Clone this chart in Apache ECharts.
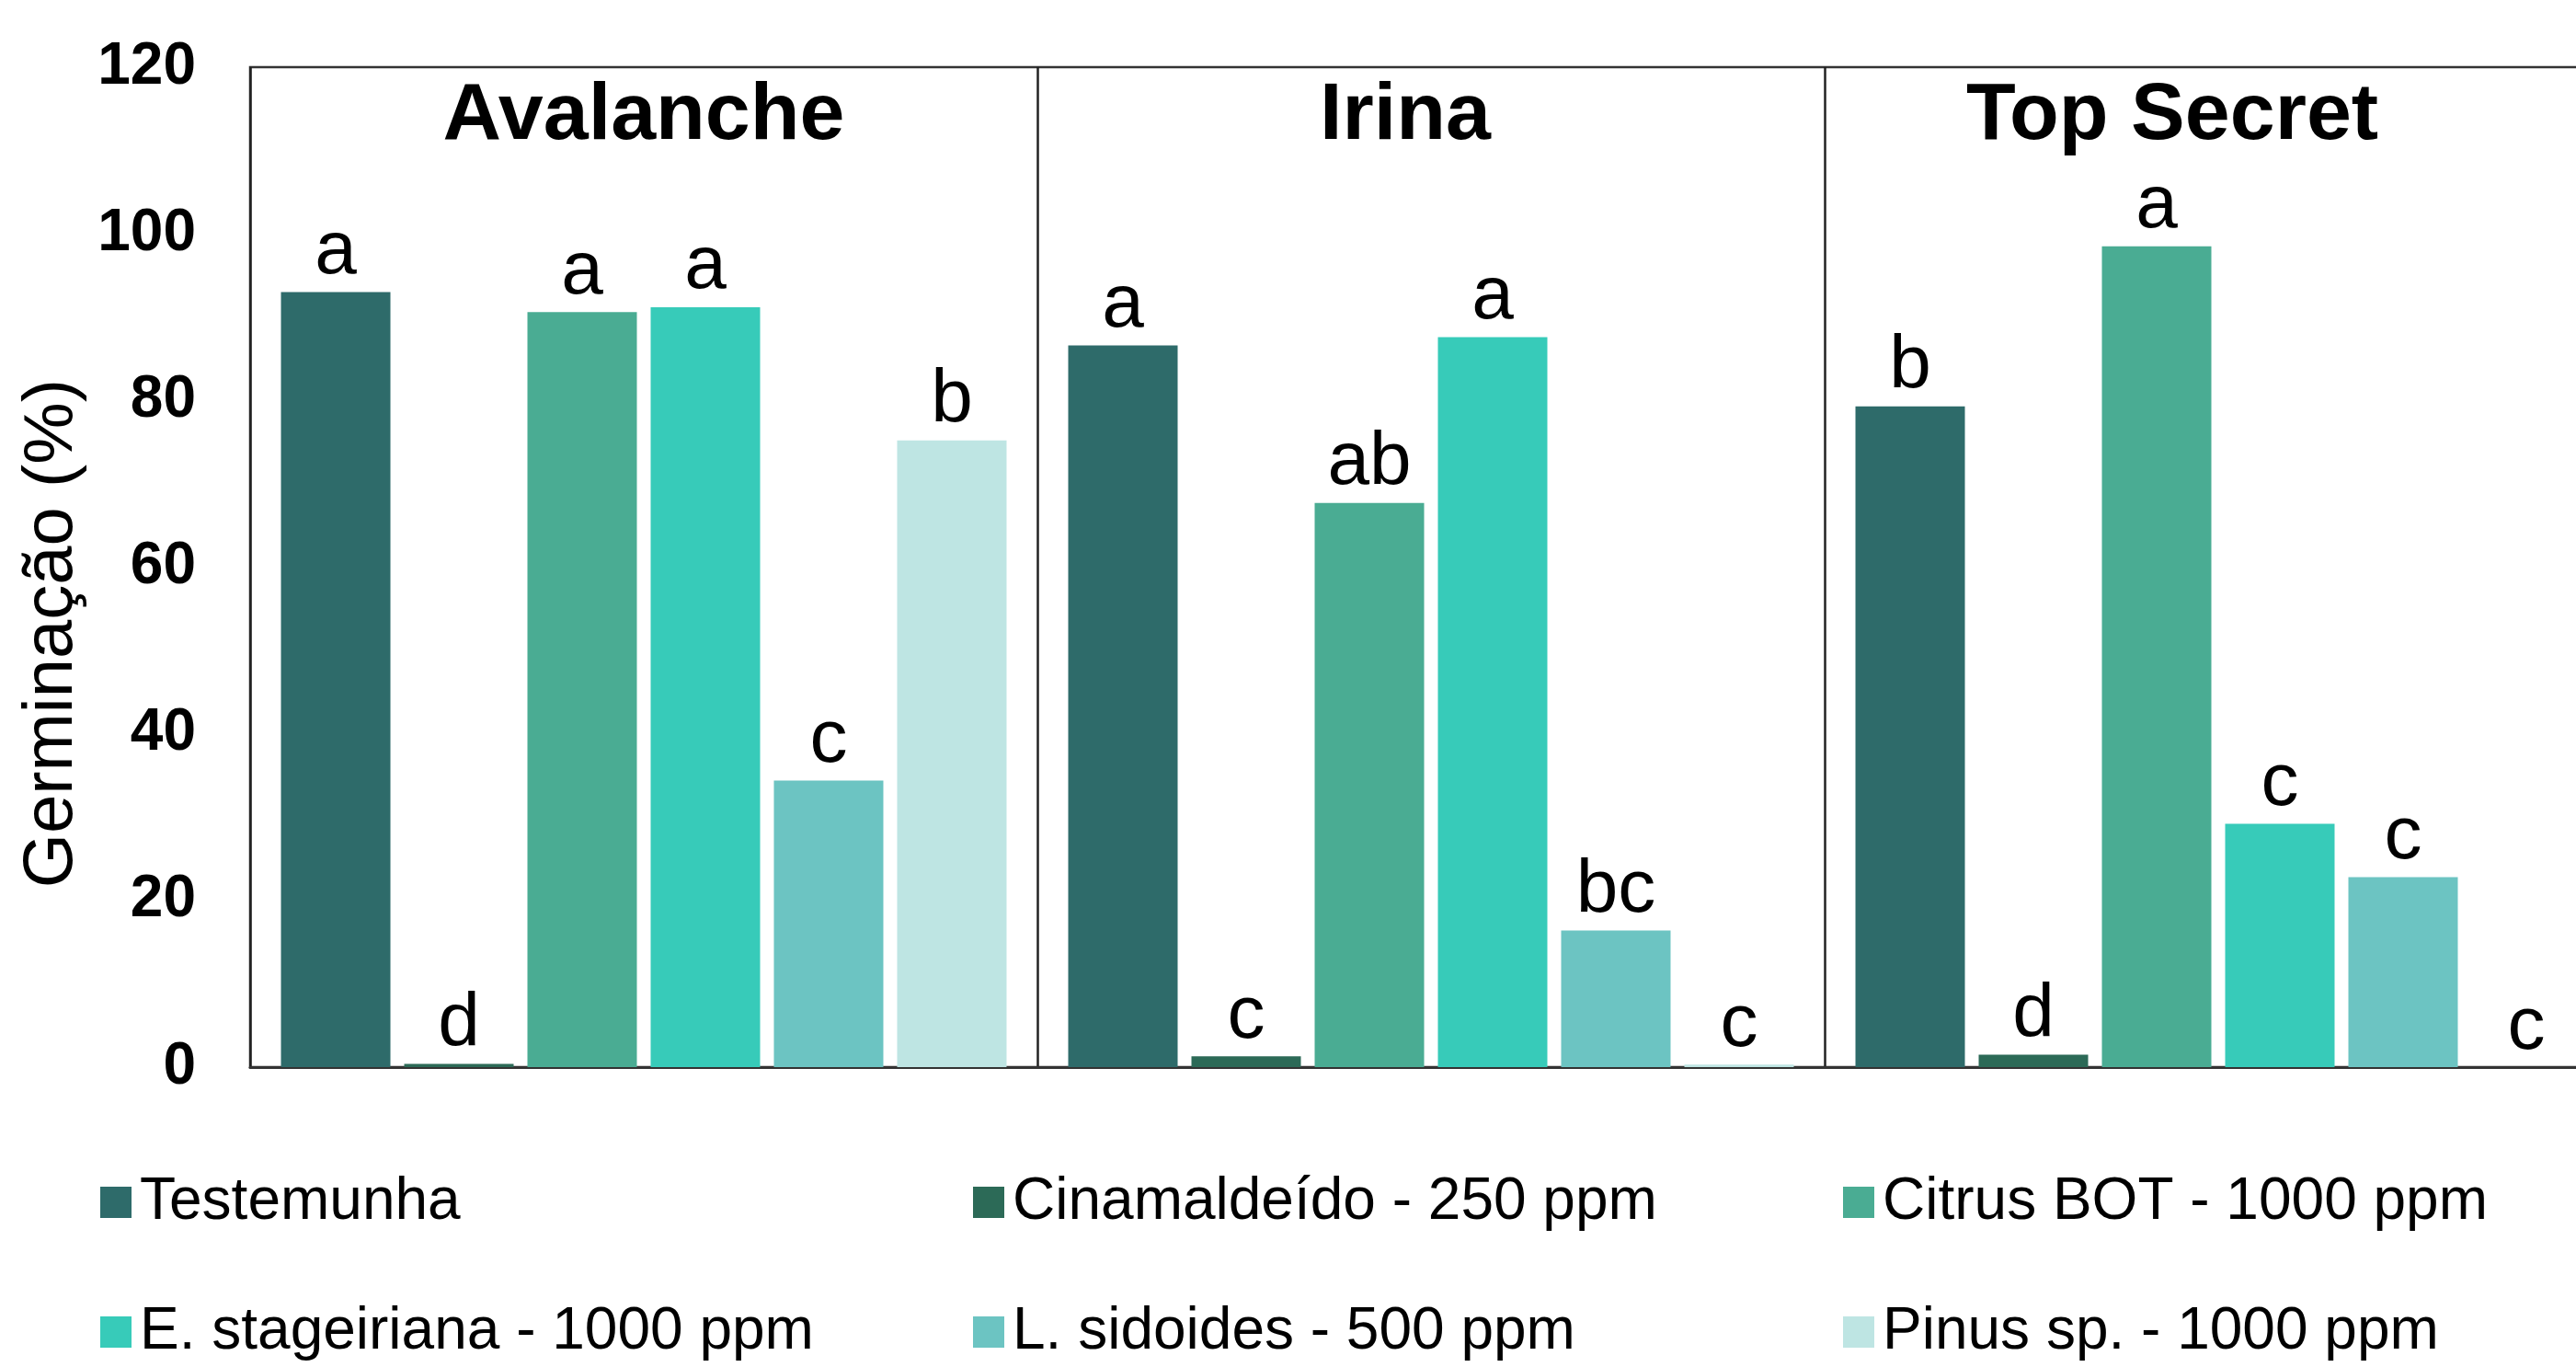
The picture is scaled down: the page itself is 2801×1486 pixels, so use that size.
<!DOCTYPE html>
<html>
<head>
<meta charset="utf-8">
<script src="https://cdn.jsdelivr.net/npm/echarts@6/dist/echarts.min.js"></script>
<style>
html,body{margin:0;padding:0;background:#fff;overflow:hidden;}
#chart{width:2801px;height:1486px;}
</style>
</head>
<body>
<div id="chart"></div>
<script>
const categories = ['Avalanche', 'Irina', 'Top Secret'];
const seriesNames = ['Testemunha', 'Cinamaldeído - 250 ppm', 'Citrus BOT - 1000 ppm',
  'E. stageiriana - 1000 ppm', 'L. sidoides - 500 ppm', 'Pinus sp. - 1000 ppm'];
const seriesColors = ['#2E6B6A', '#2C6A57', '#4AAC93', '#37CBB9', '#6CC4C2', '#BEE5E3'];

const testemunha   = [93.0, 86.6, 79.3];
const cinamaldeido = [0.4, 1.3, 1.5];
const citrusBot    = [90.6, 67.7, 98.5];
const eStageiriana = [91.2, 87.6, 29.2];
const lSidoides    = [34.4, 16.4, 22.8];
const pinus        = [75.2, 0.3, 0];

const lettersTestemunha   = ['a', 'a', 'b'];
const lettersCinamaldeido = ['d', 'c', 'd'];
const lettersCitrusBot    = ['a', 'ab', 'a'];
const lettersEStageiriana = ['a', 'a', 'c'];
const lettersLSidoides    = ['c', 'bc', 'c'];
const lettersPinus        = ['b', 'c', 'c'];

const yMin = 0, yMax = 120, yInterval = 20;
const yAxisName = 'Germinação (%)';

const values = [testemunha, cinamaldeido, citrusBot, eStageiriana, lSidoides, pinus];
const letters = [lettersTestemunha, lettersCinamaldeido, lettersCitrusBot, lettersEStageiriana, lettersLSidoides, lettersPinus];

const FONT = "'Liberation Sans', Arial, sans-serif";
const chart = echarts.init(document.getElementById('chart'));

const series = seriesNames.map((name, i) => ({
  name: name,
  type: 'bar',
  data: values[i],
  barWidth: 119,
  barGap: '12.6%',
  itemStyle: { color: seriesColors[i] },
  label: {
    show: true,
    position: 'top',
    distance: 2,
    fontFamily: FONT,
    fontSize: 82,
    color: '#000',
    formatter: p => letters[i][p.dataIndex]
  }
}));

// shift titles to match reference placement
const titleShift = [0, 56, 100];

const legendColumns = [[0, 3], [1, 4], [2, 5]];
const legendLefts = [104, 1053, 1999];
const legends = legendColumns.map((idx, c) => ({
  orient: 'vertical',
  left: legendLefts[c],
  top: 1270,
  itemWidth: 34,
  itemHeight: 34,
  itemGap: 77,
  icon: 'rect',
  selectedMode: false,
  data: idx.map(k => seriesNames[k]),
  textStyle: { fontFamily: FONT, fontSize: 64, color: '#000', lineHeight: 64, padding: [0, 0, 0, 4] }
}));

chart.setOption({
  animation: false,
  backgroundColor: '#fff',
  grid: {
    left: 272, top: 73, bottom: 326, width: 2568,
    outerBoundsMode: 'none',
    containLabel: false,
    show: true, borderColor: '#333', borderWidth: 2.5, backgroundColor: 'transparent'
  },
  legend: legends,
  xAxis: [{
    type: 'category',
    data: categories,
    position: 'bottom',
    axisLine: { show: true, lineStyle: { color: '#333', width: 3 } },
    axisTick: { show: false },
    axisLabel: { show: false },
    splitLine: { show: true, lineStyle: { color: '#222', width: 2.5 } }
  }, {
    type: 'category',
    data: categories.map((c, i) => ({ value: c, textStyle: { padding: [0, titleShift[i], 0, 0] } })),
    position: 'top',
    axisLine: { show: false },
    axisTick: { show: false },
    axisLabel: {
      inside: true,
      margin: 10,
      fontFamily: FONT,
      fontSize: 88,
      fontWeight: 'bold',
      color: '#000',
      verticalAlign: 'top'
    }
  }],
  yAxis: {
    type: 'value',
    min: yMin, max: yMax, interval: yInterval,
    name: yAxisName,
    nameLocation: 'middle',
    nameGap: 146,
    nameTextStyle: { fontFamily: FONT, fontSize: 76, color: '#000', padding: [0, 144, 0, 0] },
    axisLine: { show: false },
    axisTick: { show: false },
    splitLine: { show: false },
    axisLabel: { margin: 59, fontFamily: FONT, fontSize: 64, fontWeight: 'bold', color: '#000' }
  },
  series: series
});
</script>
</body>
</html>
